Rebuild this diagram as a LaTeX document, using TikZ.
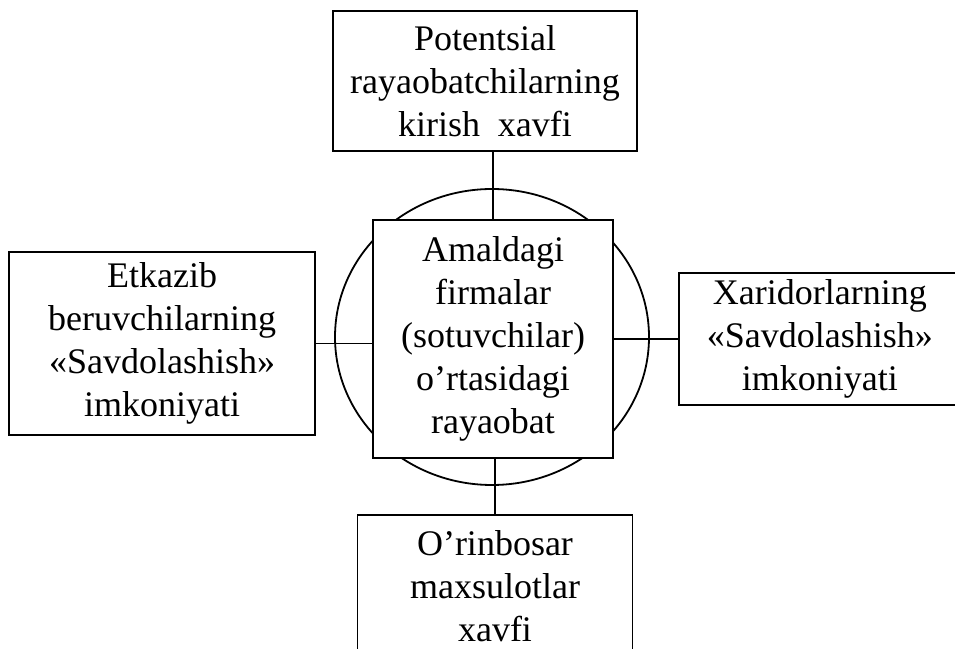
\documentclass[tikz,border=0pt]{standalone}
\usepackage{fontspec}
\setmainfont{Liberation Serif}
\usetikzlibrary{positioning}
\begin{document}
\begin{tikzpicture}[line width=1.8pt]
\tikzstyle{box}=[draw,fill=white,align=center,inner sep=4pt,font=\fontsize{36}{43}\selectfont]
\clip (0,0) rectangle (955pt,648pt);
\draw (492pt,311pt) ellipse (157pt and 148pt);
\node[box,minimum width=240pt,minimum height=238pt] (ctr) at (493pt,309pt)
    {Amaldagi\\firmalar\\(sotuvchilar)\\o’rtasidagi\\rayaobat};
\node[box,minimum width=304pt,minimum height=140pt,above=67pt of ctr,xshift=-8pt] (top)
    {Potentsial\\rayaobatchilarning\\kirish\ \ xavfi};
\node[box,minimum width=306pt,minimum height=183pt,left=56pt of ctr,yshift=-4.5pt] (lft)
    {Etkazib\\beruvchilarning\\«Savdolashish»\\imkoniyati};
\node[box,minimum width=282pt,minimum height=132pt,right=64pt of ctr] (rgt)
    {Xaridorlarning\\«Savdolashish»\\imkoniyati};
\node[box,minimum width=275pt,minimum height=143pt,below=55pt of ctr,xshift=2pt] (bot)
    {O’rinbosar\\maxsulotlar\\xavfi};
\draw (ctr.north) -- (ctr.north |- top.south);
\draw (lft.east) -- (lft.east -| ctr.west);
\draw (rgt.west) -- (rgt.west -| ctr.east);
\draw (bot.north) -- (bot.north |- ctr.south);
\end{tikzpicture}
\end{document}
